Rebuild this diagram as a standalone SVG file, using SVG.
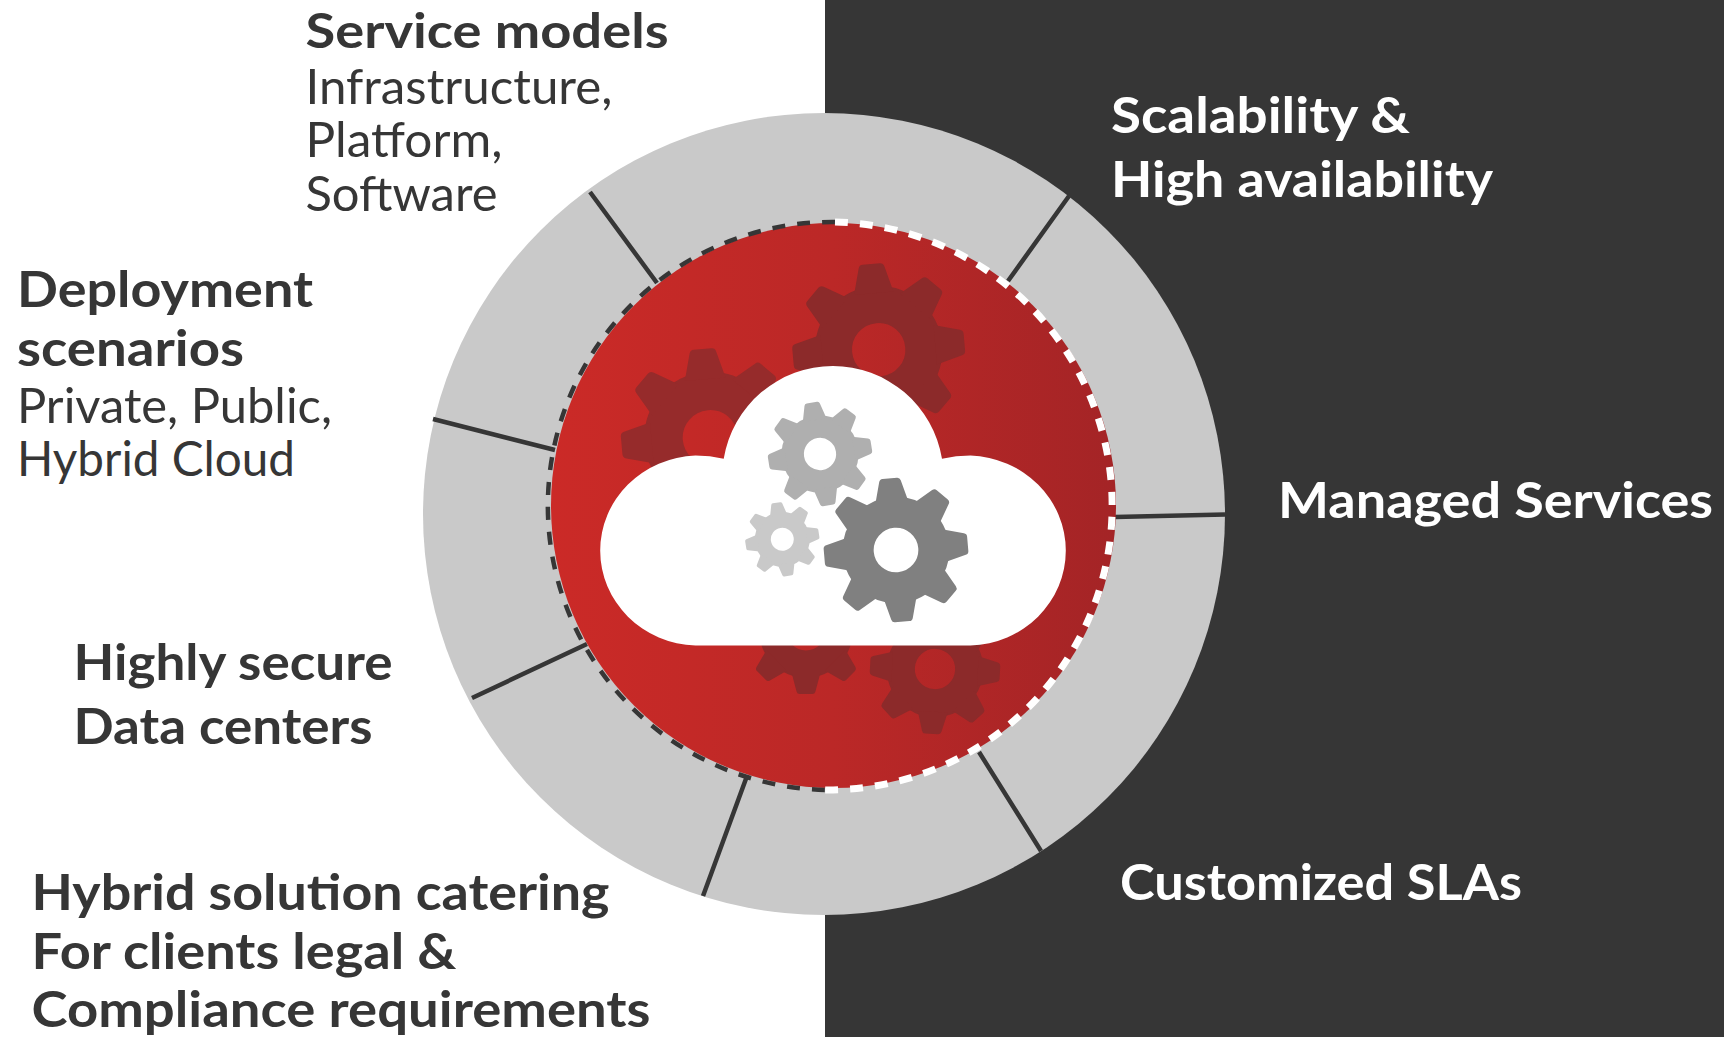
<svg xmlns="http://www.w3.org/2000/svg" xmlns:xlink="http://www.w3.org/1999/xlink" width="1724" height="1037" viewBox="0 0 1724 1037">
<style>
text{font-family:"Lato","Open Sans","Liberation Sans",sans-serif;fill:#363636;font-size:50px}
.b{font-weight:700}
.r{font-weight:400;font-size:48px}
.w{fill:#fff}
.div{stroke:#363636;stroke-width:4.5;fill:none}
</style>
<defs>
<linearGradient id="red" x1="0" x2="1" y1="0" y2="0"><stop offset="0" stop-color="#cb2a27"/><stop offset="0.5" stop-color="#bb2827"/><stop offset="1" stop-color="#a42426"/></linearGradient>
<g id="gear">
<circle r="52.5" fill="none" stroke="currentColor" stroke-width="43"/>
<g id="tooth4" fill="currentColor">
<path id="tooth" d="M-23,-66L-15,-96Q-14,-100-10,-100L10,-100Q14,-100 15,-96L23,-66Z"/>
<use href="#tooth" transform="rotate(45)"/>
<use href="#tooth" transform="rotate(90)"/>
<use href="#tooth" transform="rotate(135)"/>
</g>
<use href="#tooth4" transform="rotate(180)"/>
</g>
</defs>
<rect width="1724" height="1037" fill="#fff"/>
<rect x="825" width="899" height="1037" fill="#363636"/>
<circle id="ring" cx="824" cy="514" r="401" fill="#c9c9c9"/>
<g id="connectors">
<path class="div" d="M590,192L657,283M1069,196L1008,281M1225,514.500L1115,517M1041,851L979,752M703,896L747,776M472,698L587,644M433,419L555,450"/>
</g>
<g id="core">
<circle cx="833.500" cy="505.500" r="282.500" fill="url(#red)"/>
<path d="M835,222A284,284 0 0 0 825,789.900" fill="none" stroke="#363636" stroke-width="4.500" stroke-dasharray="13 12"/>
<path d="M835,222A284,284 0 0 1 825,789.900" fill="none" stroke="#fff" stroke-width="7" stroke-dasharray="13 12"/>
<g id="bg-gears" color="#8c2a2a">
<use href="#gear" transform="translate(878.700,349.700) rotate(-5) scale(.86)"/>
<use href="#gear" transform="translate(710.300,437.700) rotate(-5) scale(.89)" color="#962b2b"/>
<use href="#gear" transform="translate(935,669) rotate(3) scale(.65)"/>
<use href="#gear" transform="translate(806,631) scale(.63)"/>
</g>
</g>
<g id="cloud">
<path d="M695.500,645.500A98.500,95 0 0 1 695.500,455.600Q710,455.600 723.700,458.800A110.600,110.600 0 0 1 942,458.800Q956,455.600 970.500,455.600A98.500,95 0 0 1 970.500,645.500Z" fill="#fff"/>
<g id="cloud-gears">
<use href="#gear" transform="translate(896,550) rotate(-5) scale(.72)" color="#808080"/>
<use href="#gear" transform="translate(820,454) rotate(-9) scale(.52)" color="#afafaf"/>
<use href="#gear" transform="translate(782.300,539.300) rotate(-9) scale(.37)" color="#c9c9c9"/>
</g>
</g>
<g id="label-service-models">
<text class="b" x="305.500" y="47.500" font-size="48" style="font-size:48px" textLength="363" lengthAdjust="spacingAndGlyphs">Service models</text>
<text class="r" x="305.500" y="104" textLength="307" lengthAdjust="spacingAndGlyphs">Infrastructure,</text>
<text class="r" x="305.500" y="157" textLength="197" lengthAdjust="spacingAndGlyphs">Platform,</text>
<text class="r" x="305.500" y="211" textLength="192" lengthAdjust="spacingAndGlyphs">Software</text>
</g>
<g id="label-deployment">
<text class="b" x="17" y="307" textLength="296" lengthAdjust="spacingAndGlyphs">Deployment</text>
<text class="b" x="17" y="366" textLength="227" lengthAdjust="spacingAndGlyphs">scenarios</text>
<text class="r" x="17" y="423" textLength="315" lengthAdjust="spacingAndGlyphs">Private, Public,</text>
<text class="r" x="17" y="476" textLength="278" lengthAdjust="spacingAndGlyphs">Hybrid Cloud</text>
</g>
<g id="label-secure">
<text class="b" x="73.500" y="680" textLength="319" lengthAdjust="spacingAndGlyphs">Highly secure</text>
<text class="b" x="73.500" y="744" textLength="299" lengthAdjust="spacingAndGlyphs">Data centers</text>
</g>
<g id="label-hybrid">
<text class="b" x="31.500" y="910" textLength="578" lengthAdjust="spacingAndGlyphs">Hybrid solution catering</text>
<text class="b" x="31.500" y="969" textLength="425" lengthAdjust="spacingAndGlyphs">For clients legal &amp;</text>
<text class="b" x="31.500" y="1027" textLength="619" lengthAdjust="spacingAndGlyphs">Compliance requirements</text>
</g>
<g id="label-scalability">
<text class="b w" x="1111" y="133" textLength="299" lengthAdjust="spacingAndGlyphs">Scalability &amp;</text>
<text class="b w" x="1111" y="197" textLength="382" lengthAdjust="spacingAndGlyphs">High availability</text>
</g>
<g id="label-managed"><text class="b w" x="1278" y="518" textLength="435" lengthAdjust="spacingAndGlyphs">Managed Services</text></g>
<g id="label-slas"><text class="b w" x="1120" y="900" textLength="402" lengthAdjust="spacingAndGlyphs">Customized SLAs</text></g>
</svg>
